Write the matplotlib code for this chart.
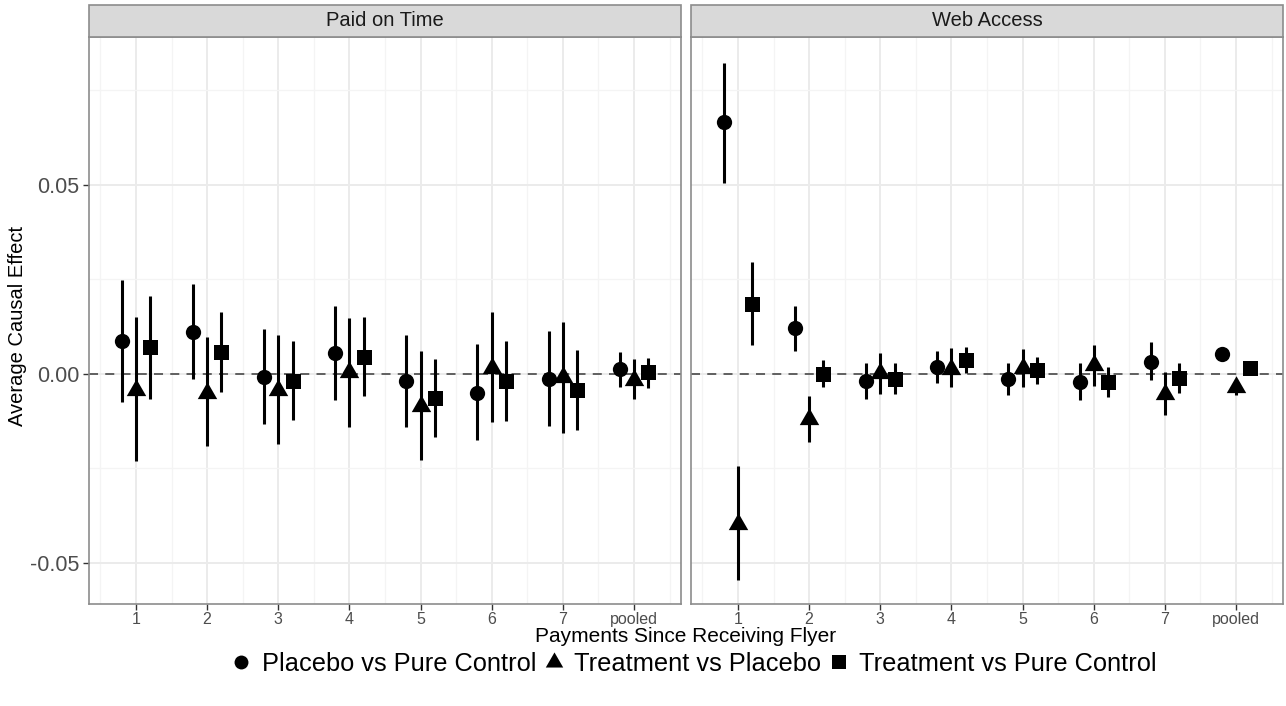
import matplotlib
matplotlib.use("Agg")
import matplotlib.pyplot as plt
from matplotlib.path import Path
from matplotlib.patches import Rectangle
from matplotlib.lines import Line2D
import numpy as np

plt.rcParams["font.family"] = ["Liberation Sans", "DejaVu Sans"]

payments = ["1", "2", "3", "4", "5", "6", "7", "pooled"]
outcomes = ["Paid on Time", "Web Access"]
comparisons = ["Placebo vs Pure Control", "Treatment vs Placebo", "Treatment vs Pure Control"]

# Paid on Time: estimates and 95% intervals
paid_plc_est = [0.0087, 0.0110, -0.0007, 0.0056, -0.0018, -0.0049, -0.0013, 0.0013]
paid_plc_lo = [-0.0075, -0.0013, -0.0132, -0.0069, -0.0139, -0.0175, -0.0138, -0.0034]
paid_plc_hi = [0.0249, 0.0237, 0.0119, 0.0180, 0.0104, 0.0079, 0.0114, 0.0059]

paid_trp_est = [-0.0042, -0.0049, -0.0042, 0.0004, -0.0084, 0.0017, -0.0009, -0.0016]
paid_trp_lo = [-0.0231, -0.0190, -0.0184, -0.0141, -0.0228, -0.0127, -0.0155, -0.0067]
paid_trp_hi = [0.0152, 0.0099, 0.0103, 0.0149, 0.0062, 0.0163, 0.0138, 0.0040]

paid_trc_est = [0.0071, 0.0059, -0.0019, 0.0046, -0.0064, -0.0019, -0.0042, 0.0004]
paid_trc_lo = [-0.0066, -0.0047, -0.0123, -0.0058, -0.0166, -0.0124, -0.0149, -0.0036]
paid_trc_hi = [0.0206, 0.0165, 0.0086, 0.0150, 0.0039, 0.0086, 0.0063, 0.0041]

# Web Access: estimates and 95% intervals
web_plc_est = [0.0666, 0.0121, -0.0019, 0.0019, -0.0013, -0.0020, 0.0033, 0.0052]
web_plc_lo = [0.0506, 0.0062, -0.0067, -0.0023, -0.0056, -0.0069, -0.0016, 0.0042]
web_plc_hi = [0.0824, 0.0181, 0.0028, 0.0062, 0.0030, 0.0028, 0.0084, 0.0062]

web_trp_est = [-0.0397, -0.0118, 0.0002, 0.0013, 0.0017, 0.0023, -0.0053, -0.0035]
web_trp_lo = [-0.0545, -0.0179, -0.0053, -0.0034, -0.0034, -0.0032, -0.0108, -0.0056]
web_trp_hi = [-0.0243, -0.0057, 0.0056, 0.0068, 0.0065, 0.0077, 0.0004, -0.0014]

web_trc_est = [0.0184, 0.0000, -0.0014, 0.0037, 0.0011, -0.0020, -0.0011, 0.0015]
web_trc_lo = [0.0077, -0.0035, -0.0053, 0.0002, -0.0026, -0.0062, -0.0049, 0.0005]
web_trc_hi = [0.0296, 0.0037, 0.0028, 0.0072, 0.0046, 0.0019, 0.0028, 0.0025]

panels = {
    "Paid on Time": [(paid_plc_est, paid_plc_lo, paid_plc_hi),
                     (paid_trp_est, paid_trp_lo, paid_trp_hi),
                     (paid_trc_est, paid_trc_lo, paid_trc_hi)],
    "Web Access": [(web_plc_est, web_plc_lo, web_plc_hi),
                   (web_trp_est, web_trp_lo, web_trp_hi),
                   (web_trc_est, web_trc_lo, web_trc_hi)],
}

# triangle centred on its centroid (like R's pch 17)
tri = Path([(0, 1), (-0.866, -0.5), (0.866, -0.5), (0, 1)],
           [Path.MOVETO, Path.LINETO, Path.LINETO, Path.CLOSEPOLY])
markers = ["o", tri, "s"]
msizes = [11.0, 16.2, 10.8]
offsets = [-0.2, 0.0, 0.2]

W, H = 1286, 706
fig = plt.figure(figsize=(W / 100, H / 100), dpi=100)

top_px, bot_px = 37, 604
lefts = [89, 691]
pw = 592
border = "#8C8C8C"
grid_major = "#EBEBEB"
grid_minor = "#F4F4F4"

x = np.arange(1, len(payments) + 1)
axes = []
for i, name in enumerate(outcomes):
    ax = fig.add_axes([lefts[i] / W, 1 - bot_px / H, pw / W, (bot_px - top_px) / H])
    axes.append(ax)
    ax.set_xlim(0.34, 8.66)
    ax.set_ylim(-0.06085, 0.08915)

    # grid
    for v in np.arange(0.5, 9.0, 1.0):
        ax.axvline(v, color=grid_minor, lw=0.9, zorder=0)
    for v in x:
        ax.axvline(v, color=grid_major, lw=1.4, zorder=0)
    for v in [-0.025, 0.025, 0.075]:
        ax.axhline(v, color=grid_minor, lw=0.9, zorder=0)
    for v in [-0.05, 0.0, 0.05]:
        ax.axhline(v, color=grid_major, lw=1.4, zorder=0)

    ax.axhline(0, color="#555555", lw=1.3, ls=(0, (5, 4)), zorder=1)

    for k, (est, lo, hi) in enumerate(panels[name]):
        est = np.array(est)
        lo = np.array(lo)
        hi = np.array(hi)
        xs = x + offsets[k]
        ax.vlines(xs, lo, hi, color="black", lw=2.2, zorder=2)
        ax.plot(xs, est, ls="none", marker=markers[k], ms=msizes[k],
                color="black", mec="black", mew=0, zorder=3)

    ax.set_xticks(x)
    ax.set_xticklabels(payments, fontsize=11.5, color="#4D4D4D")
    ax.set_yticks([-0.05, 0.0, 0.05])
    ax.set_yticklabels(["-0.05", "0.00", "0.05"], fontsize=15.5, color="#4D4D4D")
    ax.tick_params(axis="x", length=4, width=1.0, color="#333333", pad=2)
    ax.tick_params(axis="y", length=4, width=1.0, color="#333333", pad=3)
    if i == 1:
        ax.tick_params(axis="y", left=False, labelleft=False)

    for sp in ax.spines.values():
        sp.set_color(border)
        sp.set_linewidth(1.2)

    # facet strip
    sh = 32 / (bot_px - top_px)
    ax.add_patch(Rectangle((0, 1), 1, sh, transform=ax.transAxes, clip_on=False,
                           facecolor="#D9D9D9", edgecolor=border, lw=1.2, zorder=5))
    ax.text(0.5, 1 + sh / 2, name, transform=ax.transAxes, ha="center", va="center",
            fontsize=14.5, color="#1A1A1A", zorder=6)

fig.text(18 / W, 1 - 326 / H, "Average Causal Effect", rotation=90, ha="center",
         va="center", fontsize=14.5, color="black")
fig.text(686 / W, 1 - 637 / H, "Payments Since Receiving Flyer", ha="center",
         va="center", fontsize=15, color="black")

handles = [Line2D([], [], ls="none", marker=markers[k], ms=[10.0, 14.5, 9.6][k],
                  color="black", mew=0) for k in range(3)]
fig.legend(handles, comparisons, loc="center", bbox_to_anchor=(694 / W, 1 - 664 / H),
           ncol=3, frameon=False, fontsize=18.3, handlelength=0.8, handletextpad=0.4,
           columnspacing=0.3, borderaxespad=0)

fig.savefig("out.png", dpi=100)
